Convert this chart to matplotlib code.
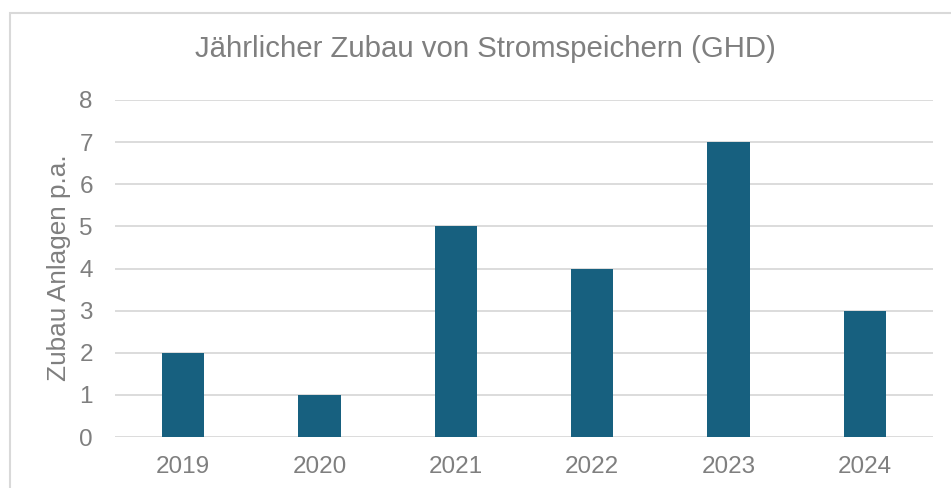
import matplotlib.pyplot as plt
from matplotlib.patches import Rectangle

years = ['2019', '2020', '2021', '2022', '2023', '2024']
zubau = [2, 1, 5, 4, 7, 3]
yticks = [0, 1, 2, 3, 4, 5, 6, 7, 8]

plt.rcParams['font.family'] = ['Liberation Sans', 'DejaVu Sans']
grey = '#7f7f7f'

fig = plt.figure(figsize=(9.51, 4.88), dpi=100)
ax = fig.add_axes([115/951, 51/488, 818/951, 337/488])

ax.bar(range(len(years)), zubau, width=0.31, color='#17607f', zorder=3)
ax.set_xlim(-0.5, len(years) - 0.5)
ax.set_ylim(0, 8)
ax.set_yticks(yticks)
ax.set_xticks(range(len(years)))
ax.set_xticklabels(years)
ax.tick_params(axis='both', length=0, colors=grey, labelsize=17.5)
ax.tick_params(axis='y', pad=16)
ax.tick_params(axis='x', pad=14)
ax.grid(axis='y', color='#d9d9d9', linewidth=1.3, zorder=0)
for s in ax.spines.values():
    s.set_visible(False)

ax.set_ylabel('Zubau Anlagen p.a.', fontsize=18.8, color=grey)
ax.yaxis.set_label_coords(-44/818, (437 - 268) / 337)
fig.text(485/951, 1 - 49/488, 'Jährlicher Zubau von Stromspeichern (GHD)',
         ha='center', va='center', fontsize=21.2, color=grey)

# light frame around the chart (open to the right and bottom)
fig.patches.append(Rectangle((9.5/951, -0.1), 1.2, 1 - 13.5/488 + 0.1,
                             transform=fig.transFigure, fill=False,
                             edgecolor='#d9d9d9', linewidth=1.5))

fig.savefig('out.png', dpi=100)
